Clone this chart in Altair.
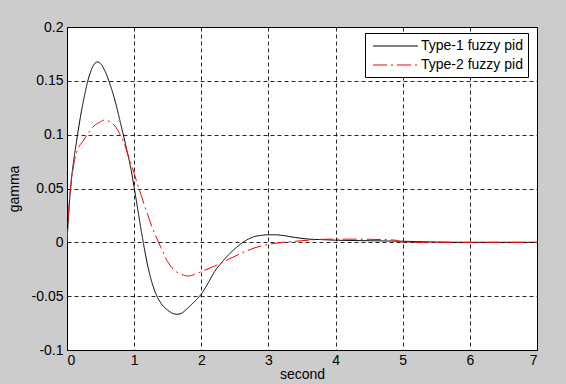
import altair as alt
import pandas as pd

# ---- data ----
t_type1 = [0, 0.03, 0.06, 0.1, 0.15, 0.2, 0.25, 0.3, 0.35, 0.4, 0.45, 0.5, 0.55, 0.6,
           0.65, 0.7, 0.75, 0.8, 0.85, 0.9, 0.95, 1.0, 1.05, 1.1, 1.15, 1.2, 1.25, 1.3,
           1.4, 1.5, 1.6, 1.65, 1.7, 1.8, 1.9, 2.0, 2.1, 2.2, 2.3, 2.4, 2.5, 2.6, 2.7,
           2.8, 2.9, 3.0, 3.1, 3.2, 3.4, 3.6, 3.8, 4.0, 4.5, 5.0, 5.5, 6.0, 7.0]
y_type1 = [0, 0.032, 0.055, 0.076, 0.097, 0.1165, 0.133, 0.1475, 0.158, 0.165, 0.1675,
           0.166, 0.161, 0.154, 0.145, 0.135, 0.123, 0.110, 0.097, 0.083, 0.069, 0.051,
           0.032, 0.013, -0.005, -0.021, -0.034, -0.044, -0.0566, -0.063, -0.0665,
           -0.0668, -0.066, -0.061, -0.055, -0.048, -0.038, -0.027, -0.019, -0.012,
           -0.006, -0.001, 0.003, 0.0055, 0.0065, 0.007, 0.007, 0.0065, 0.0045, 0.003,
           0.0025, 0.002, 0.0015, 0.001, 0.0003, 0, 0]

t_type2 = [0, 0.03, 0.05, 0.1, 0.15, 0.2, 0.25, 0.3, 0.4, 0.5, 0.55, 0.6, 0.7, 0.8,
           0.85, 0.9, 0.95, 1.0, 1.05, 1.1, 1.2, 1.25, 1.3, 1.35, 1.4, 1.5, 1.6, 1.7,
           1.8, 1.9, 2.0, 2.2, 2.4, 2.6, 2.8, 3.0, 3.2, 3.4, 3.6, 3.8, 4.0, 4.5, 4.9,
           5.0, 7.0]
y_type2 = [0, 0.033, 0.0485, 0.072, 0.085, 0.091, 0.095, 0.100, 0.108, 0.112, 0.1135,
           0.113, 0.109, 0.099, 0.092, 0.083, 0.074, 0.064, 0.054, 0.0445, 0.026, 0.017,
           0.009, 0.002, -0.005, -0.018, -0.026, -0.0295, -0.0313, -0.0298, -0.0272,
           -0.022, -0.016, -0.010, -0.005, -0.002, 0, 0.001, 0.002, 0.0028, 0.003,
           0.0028, 0.002, 0, 0]

series_names = ["Type-1 fuzzy pid", "Type-2 fuzzy pid"]
x_ticks = [0, 1, 2, 3, 4, 5, 6, 7]
y_ticks = [-0.1, -0.05, 0, 0.05, 0.1, 0.15, 0.2]

df = pd.concat([
    pd.DataFrame({"t": t_type1, "y": y_type1, "series": series_names[0], "order": range(len(t_type1))}),
    pd.DataFrame({"t": t_type2, "y": y_type2, "series": series_names[1], "order": range(len(t_type2))}),
])

FONT = "Liberation Sans"

chart = alt.Chart(df).mark_line(strokeWidth=1, interpolate="monotone", clip=True).encode(
    x=alt.X("t:Q", title="second",
            scale=alt.Scale(domain=[0, 7], nice=False, zero=False),
            axis=alt.Axis(values=x_ticks, format="d", grid=True, tickSize=0,
                          labelPadding=3, titlePadding=0)),
    y=alt.Y("y:Q", title="gamma",
            scale=alt.Scale(domain=[-0.1, 0.2], nice=False, zero=False),
            axis=alt.Axis(values=y_ticks, grid=True, tickSize=0, labelPadding=4,
                          titlePadding=10,
                          labelExpr="replace(format(datum.value, '.2~f'), '\u2212', '-')")),
    color=alt.Color("series:N", title=None,
                    scale=alt.Scale(domain=series_names, range=["#000000", "#ff0000"])),
    strokeDash=alt.StrokeDash("series:N", title=None,
                              scale=alt.Scale(domain=series_names, range=[[1, 0], [14, 4, 2, 4]])),
    order="order:Q",
).properties(
    width=470, height=323,
    autosize=alt.AutoSizeParams(type="none"),
    padding={"left": 67, "top": 27, "right": 29, "bottom": 34},
    background="#cccccc",
).configure_view(
    fill="white", stroke="black", strokeWidth=1,
).configure_axis(
    labelFont=FONT, titleFont=FONT, labelFontSize=14, titleFontSize=14,
    labelColor="black", titleColor="black", titleFontWeight="normal",
    domainColor="black", domainWidth=1,
    gridColor="black", gridDash=[4, 3], gridOpacity=0.85, gridWidth=1,
).configure_legend(
    orient="none", legendX=298, legendY=6,
    fillColor="white", strokeColor="black", padding=5, cornerRadius=0,
    labelFont=FONT, labelFontSize=14, labelColor="black",
    symbolType="M-3,0H3", symbolSize=225, symbolStrokeWidth=1,
    rowPadding=4, labelOffset=17.5, symbolOffset=17.5,
)

chart.save("out.html", embed_options={"renderer": "svg", "actions": False})
